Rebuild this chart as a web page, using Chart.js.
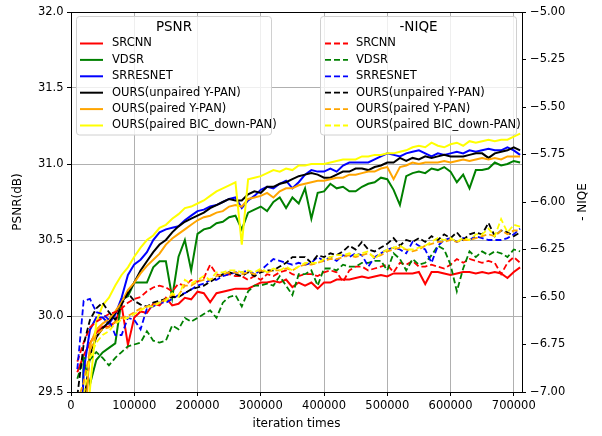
<!DOCTYPE html>
<html>
<head>
<meta charset="utf-8">
<script src="https://cdn.jsdelivr.net/npm/chart.js@4.4.0/dist/chart.umd.min.js"></script>
<style>
  html, body { margin: 0; padding: 0; background: #fff; }
</style>
</head>
<body>
<canvas id="chart" width="602" height="436"></canvas>
<script>
// ---- values ----
const iterations = [
  10000, 20000, 30000, 40000, 50000, 60000, 70000, 80000, 90000, 100000,
  110000, 120000, 130000, 140000, 150000, 160000, 170000, 180000, 190000, 200000,
  210000, 220000, 230000, 240000, 250000, 260000, 270000, 280000, 290000, 300000,
  310000, 320000, 330000, 340000, 350000, 360000, 370000, 380000, 390000, 400000,
  410000, 420000, 430000, 440000, 450000, 460000, 470000, 480000, 490000, 500000,
  510000, 520000, 530000, 540000, 550000, 560000, 570000, 580000, 590000, 600000,
  610000, 620000, 630000, 640000, 650000, 660000, 670000, 680000, 690000, 700000, 710000
];
const xTickValues = [0, 100000, 200000, 300000, 400000, 500000, 600000, 700000];

const methodNames = ['SRCNN', 'VDSR', 'SRRESNET', 'OURS(unpaired Y-PAN)', 'OURS(paired Y-PAN)', 'OURS(paired BIC_down-PAN)'];
const methodColors = ['#ff0000', '#008000', '#0000ff', '#000000', '#ffa500', '#ffff00'];

// PSNR (left axis, solid lines)
const psnrSrcnn = [
  29.63, 29.74, 29.82, 29.89, 29.93, 29.93, 29.96, 30.07, 29.81, 29.99,
  30.03, 30.02, 30.08, 30.07, 30.12, 30.07, 30.08, 30.12, 30.11, 30.16,
  30.15, 30.09, 30.15, 30.16, 30.17, 30.18, 30.18, 30.18, 30.20, 30.22,
  30.22, 30.23, 30.22, 30.24, 30.19, 30.22, 30.20, 30.22, 30.18, 30.22,
  30.22, 30.24, 30.24, 30.24, 30.25, 30.26, 30.25, 30.26, 30.27, 30.26,
  30.28, 30.28, 30.28, 30.28, 30.29, 30.21, 30.29, 30.29, 30.28, 30.27,
  30.28, 30.29, 30.29, 30.28, 30.29, 30.28, 30.29, 30.28, 30.25, 30.29, 30.32
];
const psnrVdsr = [
  28.00, 29.71, 29.55, 29.71, 29.76, 29.79, 29.82, 30.11, 30.13, 30.22,
  30.22, 30.22, 30.32, 30.36, 30.36, 30.12, 30.39, 30.50, 30.30, 30.54,
  30.57, 30.58, 30.61, 30.62, 30.65, 30.66, 30.57, 30.68, 30.70, 30.72,
  30.69, 30.75, 30.78, 30.71, 30.78, 30.74, 30.84, 30.64, 30.81, 30.82,
  30.87, 30.84, 30.85, 30.82, 30.82, 30.85, 30.87, 30.88, 30.91, 30.90,
  30.83, 30.73, 30.92, 30.94, 30.95, 30.94, 30.97, 30.96, 30.98, 30.95,
  30.88, 30.93, 30.84, 30.96, 30.96, 30.97, 31.01, 30.99, 31.00, 31.02, 31.01
];
const psnrSrresnet = [
  28.50, 29.64, 29.91, 29.99, 29.99, 29.95, 30.01, 30.12, 30.27, 30.34,
  30.37, 30.42, 30.50, 30.55, 30.57, 30.58, 30.59, 30.63, 30.66, 30.69,
  30.70, 30.72, 30.73, 30.75, 30.77, 30.78, 30.71, 30.76, 30.79, 30.83,
  30.85, 30.84, 30.87, 30.89, 30.84, 30.88, 30.93, 30.96, 30.95, 30.95,
  30.97, 30.95, 30.99, 31.01, 31.01, 31.01, 31.01, 31.03, 31.05, 31.07,
  31.06, 31.05, 31.07, 31.08, 31.09, 31.07, 31.05, 31.07, 31.06, 31.07,
  31.08, 31.07, 31.09, 31.08, 31.09, 31.10, 31.09, 31.09, 31.11, 31.09, 31.06
];
const psnrUnpairedY = [
  28.30, 29.40, 29.74, 29.86, 29.92, 29.96, 30.02, 30.09, 30.15, 30.22,
  30.30, 30.36, 30.42, 30.47, 30.50, 30.55, 30.59, 30.62, 30.64, 30.66,
  30.68, 30.71, 30.73, 30.75, 30.77, 30.76, 30.76, 30.80, 30.82, 30.81,
  30.85, 30.85, 30.87, 30.88, 30.90, 30.92, 30.93, 30.94, 30.93, 30.91,
  30.91, 30.93, 30.95, 30.95, 30.97, 30.97, 30.96, 30.98, 30.99, 31.01,
  31.01, 31.04, 31.02, 31.04, 31.03, 31.05, 31.04, 31.05, 31.06, 31.05,
  31.05, 31.05, 31.06, 31.07, 31.07, 31.04, 31.07, 31.08, 31.09, 31.11, 31.09
];
const psnrPairedY = [
  28.20, 29.10, 29.81, 29.91, 29.95, 29.98, 30.03, 30.09, 30.17, 30.22,
  30.28, 30.33, 30.37, 30.41, 30.47, 30.51, 30.54, 30.57, 30.60, 30.63,
  30.65, 30.66, 30.68, 30.69, 30.72, 30.73, 30.72, 30.77, 30.78, 30.79,
  30.81, 30.78, 30.82, 30.84, 30.84, 30.86, 30.87, 30.88, 30.89, 30.89,
  30.90, 30.91, 30.91, 30.93, 30.93, 30.94, 30.95, 30.95, 30.97, 30.98,
  30.90, 30.98, 30.99, 31.01, 31.00, 31.01, 31.01, 31.01, 31.02, 31.01,
  31.02, 31.03, 31.02, 31.03, 31.04, 31.03, 31.04, 31.03, 31.05, 31.05, 31.05
];
const psnrPairedBic = [
  28.50, 29.00, 29.52, 29.96, 30.07, 30.12, 30.20, 30.27, 30.32, 30.39,
  30.45, 30.50, 30.53, 30.58, 30.60, 30.64, 30.67, 30.71, 30.72, 30.74,
  30.76, 30.79, 30.82, 30.84, 30.86, 30.88, 30.47, 30.90, 30.91, 30.92,
  30.94, 30.96, 30.95, 30.97, 30.96, 30.99, 30.99, 31.00, 31.00, 31.00,
  31.01, 31.02, 31.03, 31.03, 31.03, 31.05, 31.05, 31.06, 31.06, 31.07,
  31.07, 31.08, 31.09, 31.11, 31.12, 31.11, 31.14, 31.12, 31.11, 31.13,
  31.14, 31.12, 31.15, 31.14, 31.15, 31.16, 31.15, 31.16, 31.16, 31.18, 31.20
];

// -NIQE (right axis, dashed lines)
const niqeSrcnn = [
  -6.84, -6.74, -6.66, -6.63, -6.61, -6.59, -6.58, -6.56, -6.53, -6.51,
  -6.50, -6.47, -6.45, -6.44, -6.45, -6.47, -6.43, -6.44, -6.41, -6.42,
  -6.40, -6.33, -6.38, -6.39, -6.38, -6.39, -6.39, -6.41, -6.39, -6.41,
  -6.38, -6.39, -6.37, -6.36, -6.38, -6.39, -6.38, -6.38, -6.39, -6.37,
  -6.36, -6.37, -6.42, -6.36, -6.34, -6.34, -6.36, -6.35, -6.34, -6.33,
  -6.37, -6.32, -6.33, -6.31, -6.34, -6.34, -6.33, -6.34, -6.35, -6.33,
  -6.30, -6.32, -6.30, -6.31, -6.32, -6.31, -6.32, -6.38, -6.32, -6.29, -6.32
];
const niqeVdsr = [
  -6.93, -6.82, -6.83, -6.79, -6.82, -6.86, -6.82, -6.79, -6.76, -6.75,
  -6.74, -6.68, -6.73, -6.74, -6.73, -6.65, -6.67, -6.61, -6.63, -6.61,
  -6.59, -6.57, -6.61, -6.53, -6.50, -6.49, -6.55, -6.47, -6.44, -6.44,
  -6.43, -6.44, -6.39, -6.44, -6.49, -6.38, -6.38, -6.36, -6.44, -6.35,
  -6.35, -6.36, -6.33, -6.34, -6.34, -6.32, -6.32, -6.31, -6.31, -6.36,
  -6.27, -6.30, -6.36, -6.30, -6.33, -6.32, -6.28, -6.23, -6.25, -6.33,
  -6.47, -6.35, -6.26, -6.29, -6.26, -6.28, -6.26, -6.27, -6.29, -6.25, -6.26
];
const niqeSrresnet = [
  -6.88, -6.52, -6.51, -6.58, -6.59, -6.62, -6.70, -6.70, -6.61, -6.62,
  -6.67, -6.56, -6.55, -6.53, -6.53, -6.51, -6.49, -6.48, -6.46, -6.44,
  -6.43, -6.41, -6.41, -6.39, -6.38, -6.37, -6.37, -6.36, -6.38, -6.36,
  -6.33, -6.30, -6.31, -6.32, -6.33, -6.32, -6.33, -6.32, -6.29, -6.31,
  -6.29, -6.31, -6.28, -6.29, -6.27, -6.28, -6.34, -6.29, -6.27, -6.25,
  -6.24, -6.25, -6.27, -6.21, -6.23, -6.25, -6.32, -6.23, -6.20, -6.19,
  -6.21, -6.19, -6.20, -6.18, -6.19, -6.20, -6.20, -6.20, -6.19, -6.17, -6.14
];
const niqeUnpairedY = [
  -7.02, -6.75, -6.62, -6.56, -6.53, -6.58, -6.62, -6.54, -6.48, -6.52,
  -6.54, -6.55, -6.53, -6.52, -6.51, -6.50, -6.50, -6.48, -6.46, -6.45,
  -6.44, -6.42, -6.40, -6.38, -6.37, -6.38, -6.39, -6.37, -6.39, -6.37,
  -6.36, -6.36, -6.34, -6.32, -6.29, -6.29, -6.29, -6.32, -6.28, -6.29,
  -6.27, -6.28, -6.26, -6.23, -6.25, -6.21, -6.25, -6.26, -6.24, -6.22,
  -6.19, -6.23, -6.20, -6.21, -6.19, -6.21, -6.18, -6.20, -6.17, -6.19,
  -6.16, -6.20, -6.17, -6.16, -6.17, -6.11, -6.18, -6.15, -6.16, -6.18, -6.16
];
const niqePairedY = [
  -7.05, -6.95, -6.78, -6.70, -6.67, -6.66, -6.63, -6.61, -6.60, -6.58,
  -6.56, -6.55, -6.54, -6.53, -6.51, -6.49, -6.49, -6.44, -6.44, -6.42,
  -6.41, -6.41, -6.39, -6.38, -6.37, -6.37, -6.38, -6.37, -6.38, -6.36,
  -6.37, -6.36, -6.36, -6.35, -6.36, -6.34, -6.33, -6.33, -6.32, -6.31,
  -6.30, -6.30, -6.29, -6.28, -6.29, -6.28, -6.27, -6.29, -6.28, -6.26,
  -6.25, -6.24, -6.25, -6.26, -6.25, -6.23, -6.22, -6.21, -6.21, -6.20,
  -6.21, -6.20, -6.20, -6.19, -6.18, -6.17, -6.18, -6.15, -6.17, -6.15, -6.15
];
const niqePairedBic = [
  -7.04, -7.02, -6.82, -6.74, -6.70, -6.68, -6.64, -6.62, -6.61, -6.59,
  -6.57, -6.55, -6.55, -6.53, -6.52, -6.48, -6.50, -6.41, -6.43, -6.41,
  -6.39, -6.41, -6.37, -6.37, -6.36, -6.36, -6.37, -6.36, -6.37, -6.35,
  -6.37, -6.35, -6.36, -6.34, -6.36, -6.34, -6.32, -6.32, -6.32, -6.30,
  -6.29, -6.28, -6.28, -6.27, -6.28, -6.27, -6.26, -6.30, -6.27, -6.25,
  -6.24, -6.23, -6.25, -6.25, -6.24, -6.23, -6.21, -6.19, -6.20, -6.19,
  -6.21, -6.19, -6.20, -6.17, -6.17, -6.14, -6.18, -6.09, -6.16, -6.12, -6.13
];

const psnrSeries = [psnrSrcnn, psnrVdsr, psnrSrresnet, psnrUnpairedY, psnrPairedY, psnrPairedBic];
const niqeSeries = [niqeSrcnn, niqeVdsr, niqeSrresnet, niqeUnpairedY, niqePairedY, niqePairedBic];

// ---- build datasets (later ones on top, like the original plot order) ----
const datasets = [];
psnrSeries.forEach((values, i) => {
  datasets.push({
    label: methodNames[i],
    data: iterations.map((x, k) => ({ x, y: values[k] })),
    borderColor: methodColors[i],
    borderWidth: 2,
    yAxisID: 'y'
  });
});
niqeSeries.forEach((values, i) => {
  datasets.push({
    label: methodNames[i],
    data: iterations.map((x, k) => ({ x, y: values[k] })),
    borderColor: methodColors[i],
    borderWidth: 1.8,
    borderDash: [6, 3],
    yAxisID: 'y2'
  });
});
datasets.forEach((ds, i) => {
  ds.order = datasets.length - i;
  ds.pointRadius = 0;
  ds.fill = false;
  ds.tension = 0;
});

// ---- frame, the two legend boxes and the right axis title ----
function drawLegendBox(ctx, box, title, items, sampleX, textX) {
  ctx.save();
  ctx.beginPath();
  if (ctx.roundRect) ctx.roundRect(box.x, box.y, box.w, box.h, 3);
  else ctx.rect(box.x, box.y, box.w, box.h);
  ctx.fillStyle = 'rgba(255,255,255,0.8)';
  ctx.fill();
  ctx.strokeStyle = '#d0d0d0';
  ctx.lineWidth = 1;
  ctx.stroke();

  ctx.fillStyle = '#000';
  ctx.textBaseline = 'middle';
  ctx.textAlign = 'center';
  ctx.font = '13.5px "DejaVu Sans"';
  ctx.fillText(title, box.x + box.w / 2, box.y + 10.5);

  ctx.textAlign = 'left';
  ctx.font = '11.5px "DejaVu Sans"';
  items.forEach((ds, i) => {
    const y = box.y + 27 + i * 16.4;
    ctx.beginPath();
    ctx.strokeStyle = ds.borderColor;
    ctx.lineWidth = ds.borderWidth;
    ctx.setLineDash(ds.borderDash || []);
    ctx.moveTo(sampleX, y);
    ctx.lineTo(sampleX + 23, y);
    ctx.stroke();
    ctx.setLineDash([]);
    ctx.fillText(ds.label, textX, y);
  });
  ctx.restore();
}

const overlays = {
  id: 'overlays',
  afterDatasetsDraw(chart) {
    const { ctx, chartArea: a } = chart;
    ctx.save();
    ctx.strokeStyle = '#000';
    ctx.lineWidth = 1;
    ctx.strokeRect(Math.round(a.left) + 0.5, Math.round(a.top) + 0.5,
      Math.round(a.right - a.left), Math.round(a.bottom - a.top));

    drawLegendBox(ctx, { x: 76.5, y: 16.5, w: 195, h: 118.5 }, 'PSNR', chart.data.datasets.slice(0, 6), 80, 112);
    drawLegendBox(ctx, { x: 320.5, y: 16.5, w: 196, h: 118.5 }, '-NIQE', chart.data.datasets.slice(6), 325, 356);

    ctx.fillStyle = '#000';
    ctx.font = '12px "DejaVu Sans"';
    ctx.textAlign = 'center';
    ctx.textBaseline = 'middle';
    ctx.translate(583, (a.top + a.bottom) / 2);
    ctx.rotate(-Math.PI / 2);
    ctx.fillText('- NIQE', 0, 0);
    ctx.restore();
  }
};

Chart.defaults.font.family = '"DejaVu Sans"';
Chart.defaults.font.size = 11.5;
Chart.defaults.color = '#000';

new Chart(document.getElementById('chart').getContext('2d'), {
  type: 'line',
  data: { datasets },
  options: {
    responsive: false,
    animation: false,
    events: [],
    layout: { padding: { top: 12, left: 0, right: 0, bottom: 0 } },
    plugins: {
      legend: { display: false },
      tooltip: { enabled: false }
    },
    scales: {
      x: {
        type: 'linear',
        min: 0,
        max: 713000,
        afterFit: s => { s.height = 44; },
        afterBuildTicks: s => { s.ticks = xTickValues.map(v => ({ value: v })); },
        ticks: {
          autoSkip: false,
          padding: 3,
          maxRotation: 0,
          callback: v => String(v)
        },
        grid: { color: '#b0b0b0', lineWidth: 1, tickColor: '#000', tickLength: 4 },
        border: { display: false },
        title: {
          display: true,
          text: 'iteration times',
          font: { size: 12 },
          padding: { top: 0, bottom: 4.5 }
        }
      },
      y: {
        position: 'left',
        min: 29.5,
        max: 32.0,
        afterFit: s => { s.width = 71; },
        ticks: { stepSize: 0.5, padding: 3.5, callback: v => v.toFixed(1) },
        grid: { color: '#b0b0b0', lineWidth: 1, tickColor: '#000', tickLength: 4 },
        border: { display: false },
        title: {
          display: true,
          text: 'PSNR(dB)',
          font: { size: 12 },
          padding: { top: 10.5, bottom: 0 }
        }
      },
      y2: {
        position: 'right',
        min: -7.0,
        max: -5.0,
        afterFit: s => { s.width = 80; },
        ticks: {
          stepSize: 0.25,
          padding: 4,
          callback: v => v.toFixed(2).replace('-', '\u2212')
        },
        grid: { drawOnChartArea: false, tickColor: '#000', tickLength: 4 },
        border: { display: false }
      }
    }
  },
  plugins: [overlays]
});
</script>
</body>
</html>
